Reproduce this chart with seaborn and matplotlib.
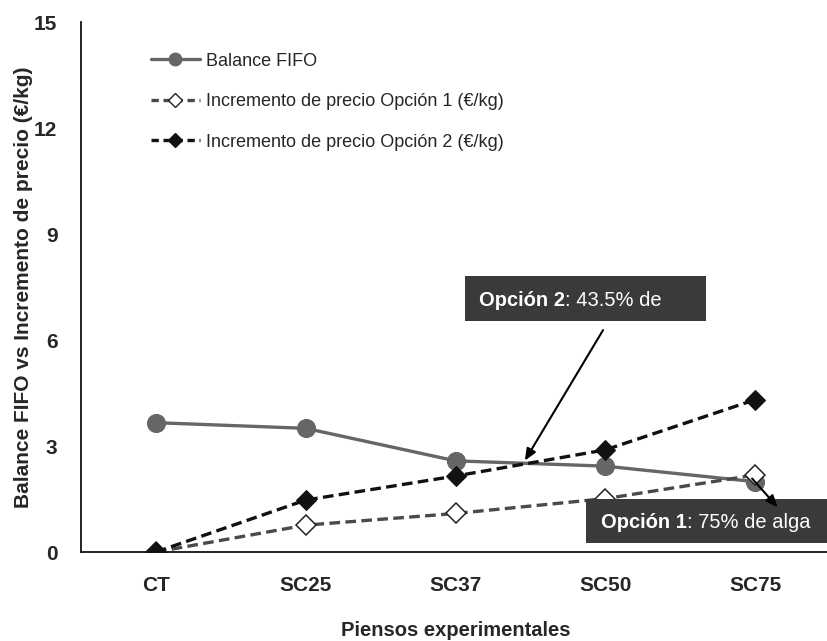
import matplotlib
matplotlib.use("Agg")
import matplotlib.pyplot as plt
from matplotlib.lines import Line2D
from matplotlib.patches import Rectangle
import pandas as pd
import seaborn as sns

# Data
piensos = ["CT", "SC25", "SC37", "SC50", "SC75"]
balance_fifo = [3.66, 3.50, 2.58, 2.43, 1.99]
incremento_op1 = [0.0, 0.76, 1.09, 1.51, 2.18]
incremento_op2 = [0.0, 1.47, 2.15, 2.89, 4.31]
y_ticks = [0, 3, 6, 9, 12, 15]

lab_balance = "Balance FIFO"
lab_op1 = "Incremento de precio Opción 1 (€/kg)"
lab_op2 = "Incremento de precio Opción 2 (€/kg)"

sns.set_style("white")
plt.rcParams["font.family"] = ["Liberation Sans", "DejaVu Sans"]

df = pd.DataFrame({"pienso": piensos, "balance": balance_fifo,
                   "op1": incremento_op1, "op2": incremento_op2})

fig = plt.figure(figsize=(8.27, 6.41), dpi=100)
ax = fig.add_axes([81 / 827, 89 / 641, 749 / 827, 530 / 641])

c_bal = "#666666"
c_op1 = "#4a4a4a"
c_op2 = "#111111"

sns.lineplot(data=df, x="pienso", y="balance", ax=ax, color=c_bal, lw=2.4,
             marker="o", markersize=13, markerfacecolor=c_bal,
             markeredgecolor=c_bal, sort=False, zorder=3)
sns.lineplot(data=df, x="pienso", y="op1", ax=ax, color=c_op1, lw=2.4,
             linestyle=(0, (3.2, 1.6)), marker="D", markersize=10,
             markerfacecolor="white", markeredgecolor="#222222",
             markeredgewidth=1.1, sort=False, zorder=4)
sns.lineplot(data=df, x="pienso", y="op2", ax=ax, color=c_op2, lw=2.4,
             linestyle=(0, (3.2, 1.6)), marker="D", markersize=10,
             markerfacecolor=c_op2, markeredgecolor=c_op2, sort=False,
             zorder=5)

ax.set_xlim(-0.5, 4.5)
ax.set_ylim(0, 15)
ax.set_yticks(y_ticks)
ax.set_xticks(range(len(piensos)))
ax.set_xticklabels(piensos)
ax.set_xticks([i + 0.5 for i in range(len(piensos) - 1)], minor=True)

for s in ("top", "right"):
    ax.spines[s].set_visible(False)
for s in ("left", "bottom"):
    ax.spines[s].set_color("#111111")
    ax.spines[s].set_linewidth(1.3)

ax.tick_params(axis="y", which="major", direction="out", length=7, width=1.2,
               color="#111111", pad=10, labelsize=15)
ax.tick_params(axis="x", which="major", length=0, pad=17, labelsize=15)
ax.tick_params(axis="x", which="minor", direction="out", length=7,
               width=1.2, color="#111111")
for t in ax.get_xticklabels() + ax.get_yticklabels():
    t.set_fontweight("bold")

ax.set_xlabel("Piensos experimentales", fontsize=14.5, fontweight="bold",
              labelpad=19)
ax.set_ylabel("Balance FIFO vs Incremento de precio (€/kg)", fontsize=15,
              fontweight="bold", labelpad=1)

# Legend
handles = [
    Line2D([], [], color=c_bal, lw=2.4, marker="o", markersize=9,
           markerfacecolor=c_bal, markeredgecolor=c_bal),
    Line2D([], [], color=c_op1, lw=2.4, linestyle=(0, (2.2, 1.4)), marker="D",
           markersize=7, markerfacecolor="white", markeredgecolor="#222222"),
    Line2D([], [], color=c_op2, lw=2.4, linestyle=(0, (2.2, 1.4)), marker="D",
           markersize=7, markerfacecolor=c_op2, markeredgecolor=c_op2),
]
ax.legend(handles, [lab_balance, lab_op1, lab_op2], loc="upper left",
          bbox_to_anchor=(0.0935, 0.942), frameon=False, fontsize=13,
          handlelength=2.7, handletextpad=0.35, labelspacing=1.3,
          borderpad=0, borderaxespad=0)

# Callout boxes: bold lead-in followed by regular text
box_color = "#3a3a3a"


def callout(x0, y0, w, h, tx, bold, rest):
    ax.add_patch(Rectangle((x0, y0), w, h, transform=ax.transAxes,
                           facecolor=box_color, edgecolor="none", zorder=6,
                           clip_on=False))
    head = ax.text(tx, y0 + h / 2, bold, transform=ax.transAxes,
                   color="white", fontsize=14.5, fontweight="bold",
                   va="center_baseline", ha="left", zorder=7)
    ax.annotate(rest, xy=(1, 0), xycoords=head, color="white",
                fontsize=14.5, va="bottom", ha="left", zorder=7)


callout(0.5127, 0.4358, 0.3217, 0.085, 0.5314, "Opción 2", ": 43.5% de")
callout(0.6742, 0.017, 0.33, 0.083, 0.6943, "Opción 1", ": 75% de alga")

# Arrow to where Balance FIFO and Opción 2 cross (between SC37 and SC50)
d_b = balance_fifo[3] - balance_fifo[2]
d_o = incremento_op2[3] - incremento_op2[2]
t = (balance_fifo[2] - incremento_op2[2]) / (d_o - d_b)
cross_x = 2 + t
cross_y = balance_fifo[2] + d_b * t
ax.annotate("", xy=(cross_x - 0.02, cross_y + 0.08), xytext=(2.985, 6.28),
            arrowprops=dict(arrowstyle="-|>,head_length=0.7,head_width=0.3",
                            color="black", lw=1.5, shrinkA=0, shrinkB=0),
            zorder=8)
# Arrow from the SC75 point down into the Opción 1 box
ax.annotate("", xy=(4.15, 1.27), xytext=(3.98, incremento_op1[4] - 0.1),
            arrowprops=dict(arrowstyle="-|>,head_length=0.7,head_width=0.3",
                            color="black", lw=1.5, shrinkA=0, shrinkB=0),
            zorder=8)

fig.savefig("out.png", dpi=100)
